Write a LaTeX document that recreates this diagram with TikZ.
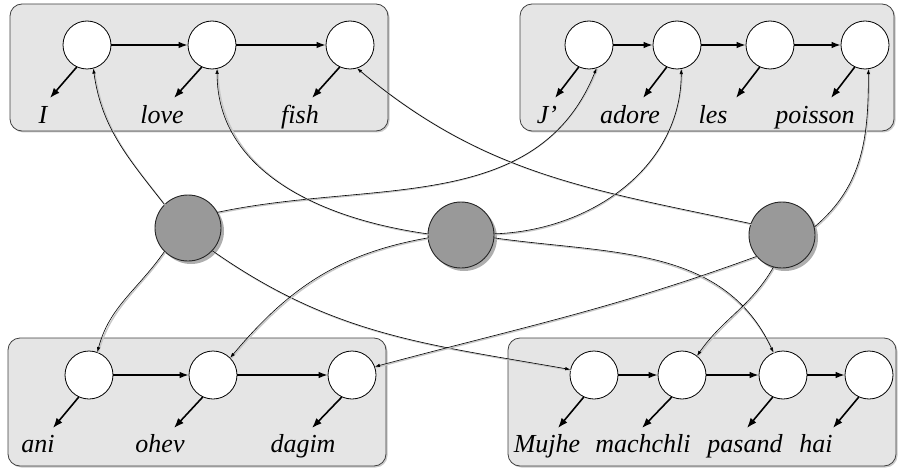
\documentclass[tikz,border=0pt]{standalone}
\usepackage{fontspec}
\setmainfont{Liberation Serif}
\usetikzlibrary{arrows.meta,shadows,calc}
\tikzset{
  panel/.style={draw=black!75, line width=0.8pt, fill=black!10, rounded corners=12pt,
    drop shadow={shadow xshift=1.5pt, shadow yshift=-1.5pt, opacity=0.35, fill=black!60}},
  wnode/.style={circle, draw=black, line width=0.8pt, fill=white, minimum size=48pt, inner sep=0pt},
  gnode/.style={circle, draw=black!85, line width=0.9pt, fill=black!40, minimum size=66pt, inner sep=0pt,
    drop shadow={shadow xshift=3pt, shadow yshift=-3pt, opacity=0.45, fill=black!70}},
  word/.style={font=\fontsize{26}{30}\selectfont\itshape, anchor=base, inner sep=0pt},
  chain/.style={line width=1.2pt, -{Latex[length=9pt,width=6.5pt]}},
  emit/.style={line width=1.6pt, -{Latex[length=10pt,width=7.5pt]}},
  link/.style={line width=0.6pt, -{Latex[length=5pt,width=3.5pt]},
    preaction={draw=black!22, line width=1.4pt, -, transform canvas={shift={(0.9pt,-0.9pt)}}}},
}
\begin{document}
\begin{tikzpicture}[x=1pt,y=1pt]
\useasboundingbox (0,0) rectangle (899,-468);
% panels
\path[panel] (10,-4) rectangle (388,-131);
\path[panel] (520,-4) rectangle (894,-131);
\path[panel] (8,-338) rectangle (386,-466);
\path[panel] (508,-338) rectangle (896,-466);

% English
\node[wnode] (e1) at (87,-45) {};
\node[wnode] (e2) at (212,-45) {};
\node[wnode] (e3) at (350,-45) {};
\node[word] (we1) at (43,-124) {I};
\node[word] (we2) at (162,-124) {love};
\node[word] (we3) at (300,-124) {fish};
\coordinate (ae1) at (50,-98);
\coordinate (ae2) at (174,-98);
\coordinate (ae3) at (312,-98);
\draw[chain] (e1) -- (e2);
\draw[chain] (e2) -- (e3);
\draw[emit] (e1.245) -- (ae1);
\draw[emit] (e2.245) -- (ae2);
\draw[emit] (e3.245) -- (ae3);

% French
\node[wnode] (f1) at (589,-45) {};
\node[wnode] (f2) at (677,-45) {};
\node[wnode] (f3) at (770,-45) {};
\node[wnode] (f4) at (865,-45) {};
\node[word] (wf1) at (547,-124) {J’};
\node[word] (wf2) at (630,-124) {adore};
\node[word] (wf3) at (713,-124) {les};
\node[word] (wf4) at (815,-124) {poisson};
\coordinate (af1) at (555,-98);
\coordinate (af2) at (643,-98);
\coordinate (af3) at (736,-98);
\coordinate (af4) at (831,-98);
\draw[chain] (f1) -- (f2);
\draw[chain] (f2) -- (f3);
\draw[chain] (f3) -- (f4);
\draw[emit] (f1.245) -- (af1);
\draw[emit] (f2.245) -- (af2);
\draw[emit] (f3.245) -- (af3);
\draw[emit] (f4.245) -- (af4);

% Hebrew
\node[wnode] (h1) at (89,-375) {};
\node[wnode] (h2) at (213,-375) {};
\node[wnode] (h3) at (352,-375) {};
\node[word] (wh1) at (38,-452) {ani};
\node[word] (wh2) at (160,-452) {ohev};
\node[word] (wh3) at (303,-452) {dagim};
\coordinate (ah1) at (53,-428);
\coordinate (ah2) at (174,-428);
\coordinate (ah3) at (312,-428);
\draw[chain] (h1) -- (h2);
\draw[chain] (h2) -- (h3);
\draw[emit] (h1.245) -- (ah1);
\draw[emit] (h2.245) -- (ah2);
\draw[emit] (h3.245) -- (ah3);

% Hindi
\node[wnode] (d1) at (594,-375) {};
\node[wnode] (d2) at (682,-375) {};
\node[wnode] (d3) at (783,-375) {};
\node[wnode] (d4) at (869,-375) {};
\node[word] (wd1) at (547,-452) {Mujhe};
\node[word] (wd2) at (643,-452) {machchli};
\node[word] (wd3) at (745,-452) {pasand};
\node[word] (wd4) at (816,-452) {hai};
\coordinate (ad1) at (558,-428);
\coordinate (ad2) at (642,-428);
\coordinate (ad3) at (747,-428);
\coordinate (ad4) at (833,-428);
\draw[chain] (d1) -- (d2);
\draw[chain] (d2) -- (d3);
\draw[chain] (d3) -- (d4);
\draw[emit] (d1.245) -- (ad1);
\draw[emit] (d2.245) -- (ad2);
\draw[emit] (d3.245) -- (ad3);
\draw[emit] (d4.245) -- (ad4);

% concept nodes
\node[gnode] (L) at (188,-228) {};
\node[gnode] (M) at (461,-235) {};
\node[gnode] (R) at (782,-235) {};

% links
\draw[link] (L.135) to[out=128,in=-82] (e1.-75);
\draw[link] (L.28) to[out=12,in=-112] (f1.-72);
\draw[link] (L.-135) to[out=-125,in=75] (h1.70);
\draw[link] (L.-43) to[out=-35,in=170] (d1.167);

\draw[link] (M.178) to[out=172,in=-90] (e2.-78);
\draw[link] (M.2) to[out=2,in=-90] (f2.-80);
\draw[link] (M.185) to[out=190,in=50] (h2.45);
\draw[link] (M.-5) to[out=-8,in=115] (d3.113);

\draw[link] (R.160) to[out=168,in=-40] (e3.-73);
\draw[link] (R.14) to[out=40,in=-90] (f4.-82);
\draw[link] (R.-140) to[out=200,in=15] (h3.20);
\draw[link] (R.-105) to[out=-120,in=55] (d2.52);
\end{tikzpicture}
\end{document}
